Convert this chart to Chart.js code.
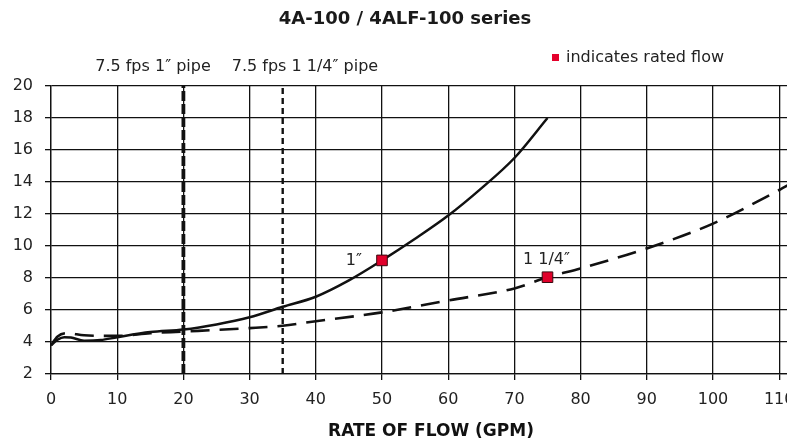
<!DOCTYPE html>
<html>
<head>
<meta charset="utf-8">
<script src="https://cdn.jsdelivr.net/npm/chart.js@4.4.1/dist/chart.umd.min.js"></script>
<style>
  html, body { margin: 0; padding: 0; background: #fff; overflow: hidden; }
  #wrap { width: 787px; height: 441px; overflow: hidden; position: relative; }
  #box { width: 860px; height: 441px; position: absolute; left: 0; top: 0; }
</style>
</head>
<body>
<div id="wrap"><div id="box"><canvas id="c"></canvas></div></div>
<script>
// ---- data ----
const titleText = "4A-100 / 4ALF-100 series";
const xAxisTitle = "RATE OF FLOW (GPM)";
const legendText = "indicates rated flow";
const pipeLabels = ["7.5 fps 1\u2033 pipe", "7.5 fps 1 1/4\u2033 pipe"];

const flow1 = [0, 1, 2, 3, 5, 7.5, 10, 15, 20, 25, 30, 35, 40, 45, 50, 55, 60, 65, 70, 75];
const head1 = [3.8, 4.15, 4.3, 4.28, 4.08, 4.12, 4.3, 4.62, 4.78, 5.1, 5.55, 6.2, 6.83, 7.85, 9.1, 10.45, 11.9, 13.6, 15.5, 18.0];

const flow125 = [0, 1, 2.5, 5, 10, 15, 20, 30, 35, 40, 50, 60, 70, 75, 80, 90, 100, 110, 112];
const head125 = [3.8, 4.35, 4.55, 4.42, 4.38, 4.55, 4.65, 4.87, 5.02, 5.3, 5.85, 6.6, 7.35, 8.05, 8.6, 9.85, 11.4, 13.5, 13.95];

const ratedFlow = [50, 75];
const ratedHead = [9.1, 8.05];
const ratedLabels = ["1\u2033", "1 1/4\u2033"];

const pipeLimitFlow = [20, 35];   // 7.5 fps for 1" and 1 1/4" pipe
const yRange = [2, 20];
const xRange = [0, 120];
const hiddenXTick = 120;          // lies outside the visible picture

const FONT = "'DejaVu Sans', sans-serif";
const INK = "#111";

const toXY = (xs, ys) => xs.map((x, i) => ({ x: x, y: ys[i] }));

const textPlugin = {
  id: 'texts',
  afterDraw(chart) {
    const ctx = chart.ctx;
    const xs = chart.scales.x, ys = chart.scales.y;
    ctx.save();
    ctx.fillStyle = "#1a1a1a";
    // main title
    ctx.font = "bold 18px " + FONT;
    ctx.textAlign = "center";
    ctx.textBaseline = "middle";
    ctx.fillText(titleText, 405, 19);
    // legend
    ctx.fillStyle = "#e4002b";
    ctx.fillRect(552, 54, 7, 7);
    ctx.fillStyle = "#222";
    ctx.font = "16px " + FONT;
    ctx.textAlign = "left";
    ctx.fillText(legendText, 566, 58);
    // pipe labels
    ctx.textAlign = "center";
    ctx.fillText(pipeLabels[0], 153, 67);
    ctx.fillText(pipeLabels[1], 305, 67);
    // rated labels
    ctx.textAlign = "right";
    ctx.fillText(ratedLabels[0], xs.getPixelForValue(ratedFlow[0]) - 20, ys.getPixelForValue(ratedHead[0]));
    ctx.textAlign = "center";
    ctx.fillText(ratedLabels[1], xs.getPixelForValue(ratedFlow[1]) - 1, ys.getPixelForValue(ratedHead[1]) - 17);
    // x axis title
    ctx.fillStyle = "#111";
    ctx.font = "bold 17px " + FONT;
    ctx.fillText(xAxisTitle, 431, 432);
    ctx.restore();
  }
};

new Chart(document.getElementById('c'), {
  type: 'line',
  data: {
    datasets: [
      {
        label: '1"',
        data: toXY(flow1, head1),
        borderColor: INK, borderWidth: 2.5,
        pointRadius: 0, cubicInterpolationMode: 'monotone', fill: false, order: 2
      },
      {
        label: '1 1/4"',
        data: toXY(flow125, head125),
        borderColor: INK, borderWidth: 2.6, borderDash: [19, 10],
        pointRadius: 0, cubicInterpolationMode: 'monotone', fill: false, order: 2
      },
      {
        label: '7.5 fps 1"',
        data: [{ x: pipeLimitFlow[0], y: yRange[0] }, { x: pipeLimitFlow[0], y: yRange[1] }],
        borderColor: INK, borderWidth: 3.8, borderDash: [10, 3],
        pointRadius: 0, order: 3
      },
      {
        label: '7.5 fps 1 1/4"',
        data: [{ x: pipeLimitFlow[1], y: yRange[0] }, { x: pipeLimitFlow[1], y: yRange[1] }],
        borderColor: INK, borderWidth: 2.4, borderDash: [6, 4],
        pointRadius: 0, order: 3
      },
      {
        label: 'rated',
        data: toXY(ratedFlow, ratedHead),
        showLine: false,
        pointStyle: 'rect', pointRadius: 7.5,
        pointBackgroundColor: '#e0002a', pointBorderColor: '#3a0a10', pointBorderWidth: 1,
        order: 1
      }
    ]
  },
  options: {
    responsive: true,
    maintainAspectRatio: false,
    animation: false,
    events: [],
    layout: { padding: { top: 86, right: 14.6, left: 0, bottom: 0 } },
    plugins: { legend: { display: false }, title: { display: false }, tooltip: { enabled: false } },
    scales: {
      x: {
        type: 'linear', min: xRange[0], max: xRange[1],
        ticks: {
          stepSize: 10, color: '#222', font: { family: FONT, size: 16 }, padding: 10, maxRotation: 0,
          callback: (v) => (v === hiddenXTick ? '' : String(v))
        },
        grid: { color: INK, lineWidth: 1.3, tickLength: 6, tickColor: INK },
        border: { display: true, color: INK, width: 1.3 },
        afterFit(s) { s.height = 67; }
      },
      y: {
        min: yRange[0], max: yRange[1],
        ticks: { stepSize: 2, color: '#222', font: { family: FONT, size: 16 }, padding: 12 },
        grid: { color: INK, lineWidth: 1.3, tickLength: 6, tickColor: INK },
        border: { display: true, color: INK, width: 1.3 },
        afterFit(s) { s.width = 51; }
      }
    }
  },
  plugins: [textPlugin]
});
</script>
</body>
</html>
